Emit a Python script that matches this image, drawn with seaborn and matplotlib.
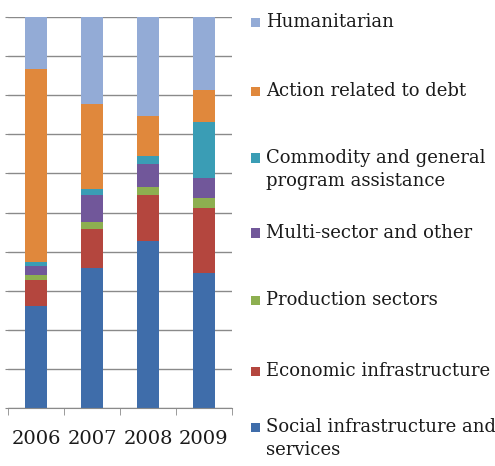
import numpy as np
import pandas as pd
from matplotlib import pyplot as plt
from matplotlib.patches import Rectangle
import seaborn as sns

years = [2006, 2007, 2008, 2009]
sectors = ['Humanitarian', 'Action related to debt',
           'Commodity and general\nprogram assistance',
           'Multi-sector and other', 'Production sectors',
           'Economic infrastructure',
           'Social infrastructure and\nservices']
colors = ['#93abd6', '#e0883c', '#3a9db5', '#71579a', '#8daf50', '#b4463e', '#3f6daa']

# shares in percent
humanitarian = [13.4, 22.2, 25.3, 18.6]
debt = [49.2, 21.8, 10.2, 8.2]
commodity = [1.2, 1.5, 2.1, 14.4]
multi_sector = [2.1, 7.0, 5.9, 5.2]
production = [1.3, 1.7, 2.0, 2.5]
economic = [6.7, 10.1, 11.9, 16.6]
social = [26.1, 35.7, 42.6, 34.5]

series = [humanitarian, debt, commodity, multi_sector, production, economic, social]
df = pd.DataFrame([
    {'year': y, 'sector': s, 'share': v}
    for s, vals in zip(sectors, series)
    for y, v in zip(years, vals)
])

sns.set_style('white')
plt.rcParams['font.family'] = ['DejaVu Serif']

W, H = 495, 466
fig = plt.figure(figsize=(W / 100, H / 100), dpi=100)
ax = fig.add_axes([8 / W, 1 - 408 / H, 224 / W, 391 / H])

sns.histplot(data=df, x='year', weights='share', hue='sector', hue_order=sectors,
             palette=colors, multiple='stack', discrete=True, shrink=0.4,
             alpha=1, linewidth=0, legend=False, ax=ax)

ax.set_xlim(2005.5, 2009.5)
ax.set_ylim(0, 100)
ax.set_yticks(np.arange(0, 101, 10))
ax.set_yticklabels([])
ax.yaxis.grid(True, color='#8a8a8a', linewidth=1)
ax.set_axisbelow(True)
ax.tick_params(axis='y', length=2, color='#8a8a8a', left=True)
ax.set_xticks(years)
ax.set_xticklabels([str(y) for y in years], fontsize=14, color='#1a1a1a')
ax.set_xticks(np.arange(2005.5, 2010, 1), minor=True)
ax.tick_params(axis='x', which='major', length=0, pad=16)
ax.tick_params(axis='x', which='minor', length=5, color='#8a8a8a', bottom=True)
for side in ['top', 'right', 'left']:
    ax.spines[side].set_visible(False)
ax.spines['bottom'].set_color('#8a8a8a')
ax.set_xlabel('')
ax.set_ylabel('')

# legend drawn by hand so the square sits beside the first line
legend_y = [22, 91, 158, 233, 300, 371, 427]
for label, col, yp in zip(sectors, colors, legend_y):
    fig.patches.append(Rectangle((251 / W, 1 - (yp + 4.5) / H), 9 / W, 9 / H,
                                 transform=fig.transFigure, facecolor=col,
                                 edgecolor='none'))
    for i, line in enumerate(label.split('\n')):
        fig.text(266 / W, 1 - (yp + i * 23) / H, line, fontsize=13,
                 va='center', ha='left', color='#1a1a1a')

fig.savefig('out.png', dpi=100)
